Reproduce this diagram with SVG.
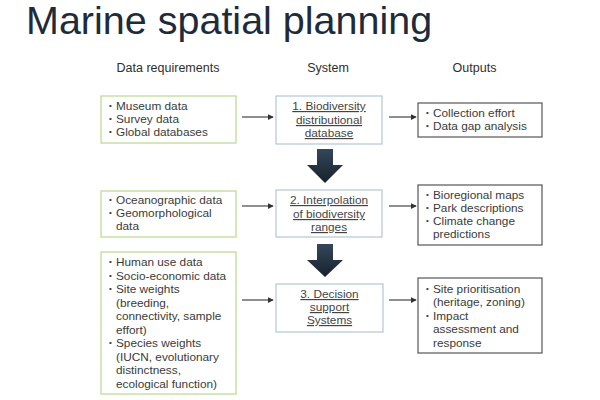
<svg xmlns="http://www.w3.org/2000/svg" width="600" height="400" viewBox="0 0 600 400">
<defs>
<style>
text{font-family:"Liberation Sans",Arial,sans-serif;fill:#3a3a3a}
.title{font-size:39.5px;fill:#1f2b3a}
.hdr{font-size:12.5px;fill:#2e2e2e}
.t{font-size:11.8px}
.b{font-size:8px}
.sys{font-size:11.8px;text-anchor:middle;text-decoration:underline;fill:#444}
.in{fill:#fff;stroke:#b9d98f;stroke-width:1.2}
.sb{fill:#fff;stroke:#b3c6d3;stroke-width:1.2}
.ob{fill:#fff;stroke:#555;stroke-width:1.2}
.c{stroke:#333;stroke-width:1.1;fill:none;marker-end:url(#ah)}
.big{fill:url(#g)}
</style>
<marker id="ah" viewBox="0 0 8 8" refX="7" refY="4" markerWidth="6" markerHeight="6" markerUnits="userSpaceOnUse" orient="auto">
<path d="M0,0 L8,4 L0,8 Z" fill="#333"/>
</marker>
<linearGradient id="g" x1="0" y1="0" x2="0" y2="1">
<stop offset="0" stop-color="#34475a"/>
<stop offset="1" stop-color="#17212c"/>
</linearGradient>
</defs>
<rect width="600" height="400" fill="#fff"/>
<text class="title" x="26" y="34">Marine spatial planning</text>
<text class="hdr" x="168" y="72" text-anchor="middle">Data requirements</text>
<text class="hdr" x="328" y="72" text-anchor="middle">System</text>
<text class="hdr" x="474.5" y="72" text-anchor="middle">Outputs</text>

<g id="in1">
<rect class="in" x="101" y="96" width="135" height="47"/>
<text class="b" x="109" y="108">•</text><text class="t" x="116" y="110">Museum data</text>
<text class="b" x="109" y="121">•</text><text class="t" x="116" y="123">Survey data</text>
<text class="b" x="109" y="134">•</text><text class="t" x="116" y="136">Global databases</text>
</g>
<g id="sys1">
<rect class="sb" x="276" y="96" width="106" height="48"/>
<text class="sys" x="329" y="110">1. Biodiversity</text>
<text class="sys" x="329" y="124">distributional</text>
<text class="sys" x="329" y="137">database</text>
</g>
<g id="out1">
<rect class="ob" x="418" y="103" width="124" height="34"/>
<text class="b" x="426" y="115">•</text><text class="t" x="433" y="117">Collection effort</text>
<text class="b" x="426" y="128">•</text><text class="t" x="433" y="130">Data gap analysis</text>
</g>

<g id="in2">
<rect class="in" x="101" y="191" width="135" height="46"/>
<text class="b" x="109" y="202">•</text><text class="t" x="116" y="204">Oceanographic data</text>
<text class="b" x="109" y="215">•</text><text class="t" x="116" y="217">Geomorphological</text>
<text class="t" x="116" y="230">data</text>
</g>
<g id="sys2">
<rect class="sb" x="276" y="190" width="106" height="47"/>
<text class="sys" x="329" y="204">2. Interpolation</text>
<text class="sys" x="329" y="218">of biodiversity</text>
<text class="sys" x="329" y="231">ranges</text>
</g>
<g id="out2">
<rect class="ob" x="418" y="185" width="124" height="60"/>
<text class="b" x="426" y="197">•</text><text class="t" x="433" y="199">Bioregional maps</text>
<text class="b" x="426" y="210">•</text><text class="t" x="433" y="212">Park descriptions</text>
<text class="b" x="426" y="223">•</text><text class="t" x="433" y="225">Climate change</text>
<text class="t" x="433" y="238">predictions</text>
</g>

<g id="in3">
<rect class="in" x="101" y="252" width="135" height="142"/>
<text class="b" x="109" y="264">•</text><text class="t" x="116" y="266">Human use data</text>
<text class="b" x="109" y="277.5">•</text><text class="t" x="116" y="279.5">Socio-economic data</text>
<text class="b" x="109" y="291">•</text><text class="t" x="116" y="293">Site weights</text>
<text class="t" x="116" y="306.5">(breeding,</text>
<text class="t" x="116" y="320">connectivity, sample</text>
<text class="t" x="116" y="333.5">effort)</text>
<text class="b" x="109" y="345">•</text><text class="t" x="116" y="347">Species weights</text>
<text class="t" x="116" y="360.5">(IUCN, evolutionary</text>
<text class="t" x="116" y="374">distinctness,</text>
<text class="t" x="116" y="387.5">ecological function)</text>
</g>
<g id="sys3">
<rect class="sb" x="276" y="284" width="107" height="48"/>
<text class="sys" x="329.5" y="298">3. Decision</text>
<text class="sys" x="329.5" y="311">support</text>
<text class="sys" x="329.5" y="324">Systems</text>
</g>
<g id="out3">
<rect class="ob" x="418" y="278" width="124" height="75"/>
<text class="b" x="426" y="291">•</text><text class="t" x="433" y="293">Site prioritisation</text>
<text class="t" x="433" y="306">(heritage, zoning)</text>
<text class="b" x="426" y="318">•</text><text class="t" x="433" y="320">Impact</text>
<text class="t" x="433" y="333">assessment and</text>
<text class="t" x="433" y="347">response</text>
</g>

<g id="connectors">
<line class="c" x1="242" y1="117" x2="273" y2="117"/>
<line class="c" x1="389" y1="117" x2="416" y2="117"/>
<line class="c" x1="242" y1="206" x2="273" y2="206"/>
<line class="c" x1="389" y1="206" x2="416" y2="206"/>
<line class="c" x1="242" y1="300" x2="273" y2="300"/>
<line class="c" x1="389" y1="300" x2="416" y2="300"/>
<path class="big" d="M317,149 H333 V165 H343 L325,183 L307,165 H317 Z"/>
<path class="big" d="M317,244 H333 V260 H343 L325,277 L307,260 H317 Z"/>
</g>
</svg>
